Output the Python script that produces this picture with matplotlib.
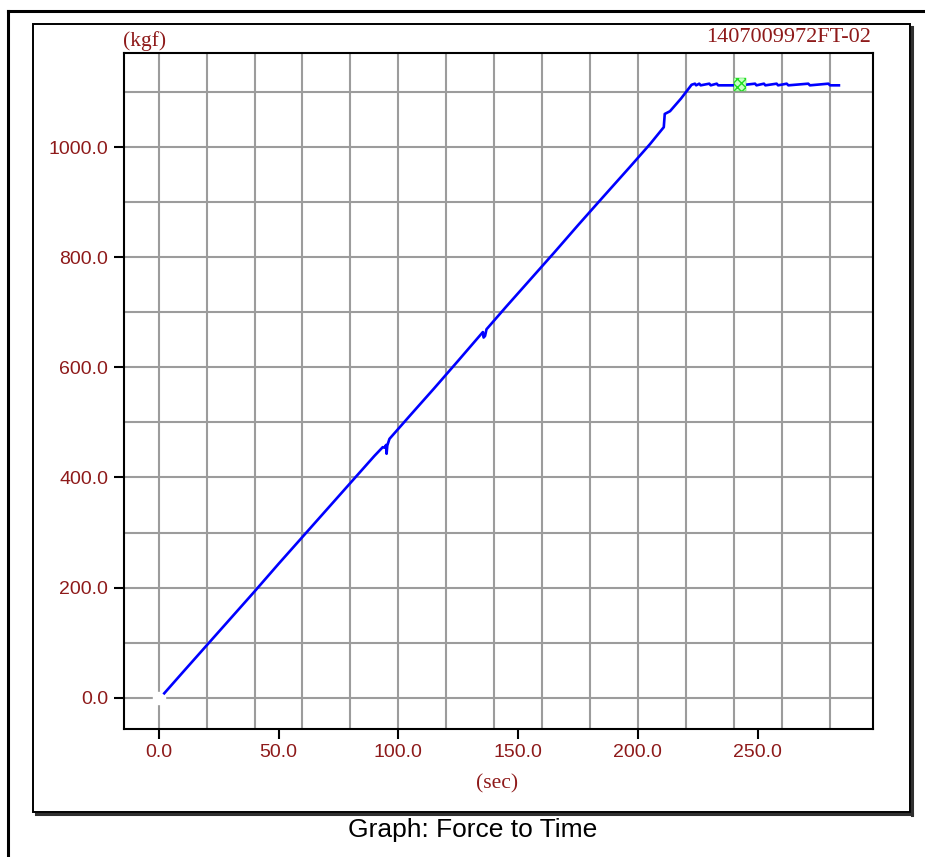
import numpy as np
import matplotlib
matplotlib.use('Agg')
import matplotlib.pyplot as plt
from matplotlib.lines import Line2D
from matplotlib.patches import Rectangle
from matplotlib.ticker import MultipleLocator

# Force curve
time_s = [2.3, 10, 20, 30, 40, 50, 60, 70, 80, 90,
          93.5, 94.2, 94.9, 95.1, 95.4, 96.3,
          105, 115, 125,
          134.5, 135.3, 135.6, 136.2, 136.8,
          145, 155, 165, 175, 185, 196.7, 205,
          210.8, 211.2, 213.4, 218, 222.4,
          223.8, 224.3, 225.6, 226.2, 229.8, 230.4, 232.9, 233.5,
          242.6, 248.9, 249.5, 252.6, 253.2, 257.9, 258.5,
          262.1, 262.8, 271.1, 271.8, 279.5, 280.2, 283.9]
force_kgf = [8, 46, 95, 144, 193, 243, 292, 341, 390, 439,
             455, 454, 459, 443, 458, 470,
             513, 562, 612,
             660, 664, 654, 657, 669,
             710, 759, 808, 858, 907, 964, 1005,
             1036, 1060, 1065, 1088, 1113,
             1115, 1112, 1115, 1112, 1115, 1112, 1115, 1112,
             1112, 1115, 1112, 1115, 1112, 1115, 1112,
             1115, 1112, 1115, 1112, 1115, 1112, 1112]

start_point = (0.0, 0.0)
peak_point = (242.6, 1114.0)

sample_id = '1407009972FT-02'
x_unit = '(sec)'
y_unit = '(kgf)'
caption = 'Graph: Force to Time'

W, H = 925, 857
red = '#8e1a1a'

plt.rcParams['font.family'] = ['Liberation Sans', 'DejaVu Sans']


def fx(px):
    return px / W


def fy(py):
    return 1 - py / H


fig = plt.figure(figsize=(W / 100, H / 100), dpi=100)

# outer frame (only top and left fall inside the picture)
fig.add_artist(Line2D([fx(7.5), fx(7.5)], [fy(10.5), 0], color='black', lw=2.2))
fig.add_artist(Line2D([fx(7.5), 1], [fy(10.5), fy(10.5)], color='black', lw=2.2))

# panel with a shadow
fig.add_artist(Rectangle((fx(33), fy(812)), fx(910) - fx(33), fy(24) - fy(812),
                         fill=False, ec='black', lw=1.4))
fig.add_artist(Line2D([fx(912), fx(912)], [fy(27), fy(814.5)], color='#303030', lw=2.2))
fig.add_artist(Line2D([fx(36), fx(912)], [fy(814), fy(814)], color='#303030', lw=2.2))

ax = fig.add_axes([fx(124), fy(729), fx(872.7) - fx(124), fy(53) - fy(729)])
ax.set_xlim(-14.5, 298)
ax.set_ylim(-56.8, 1170.7)

# labelled ticks
ax.xaxis.set_major_locator(MultipleLocator(50))
ax.yaxis.set_major_locator(MultipleLocator(200))
ax.xaxis.set_major_formatter(lambda v, p: '%.1f' % v if 0 <= v <= 250 else '')
ax.yaxis.set_major_formatter(lambda v, p: '%.1f' % v if 0 <= v <= 1000 else '')
ax.tick_params(which='major', length=7.5, width=1.5, color='black',
               labelsize=14, labelcolor=red)
ax.tick_params(axis='x', which='major', pad=3)
ax.tick_params(axis='y', which='major', pad=4)

# grid on its own spacing
ax.xaxis.set_minor_locator(MultipleLocator(20))
ax.yaxis.set_minor_locator(MultipleLocator(100))
ax.xaxis.remove_overlapping_locs = False
ax.yaxis.remove_overlapping_locs = False
ax.tick_params(which='minor', length=0)
ax.grid(which='minor', color='#9c9c9c', lw=1.5)
ax.set_axisbelow(True)

for s in ax.spines.values():
    s.set_linewidth(1.5)

ax.plot(time_s, force_kgf, color='#0000ff', lw=1.9, zorder=3)
ax.plot(*start_point, marker='s', ms=9, color='white', mec='white', zorder=2.5)
ax.scatter([peak_point[0]], [peak_point[1]], marker='s', s=85, facecolors='#c8ffc8',
           edgecolors='#22dd22', hatch='xxxx', linewidths=0.3, zorder=4)

fig.text(fx(123), fy(41), y_unit, ha='left', va='center', color=red,
         family='Liberation Serif', fontsize=15.5)
fig.text(fx(871), fy(38), sample_id, ha='right', va='center', color=red,
         family='Liberation Serif', fontsize=16)
fig.text(fx(497), fy(784), x_unit, ha='center', va='center', color=red,
         family='Liberation Serif', fontsize=15.5)
fig.text(fx(473), fy(830), caption, ha='center', va='center', color='black',
         family='Liberation Sans', fontsize=19)

plt.savefig('out.png', dpi=100)
